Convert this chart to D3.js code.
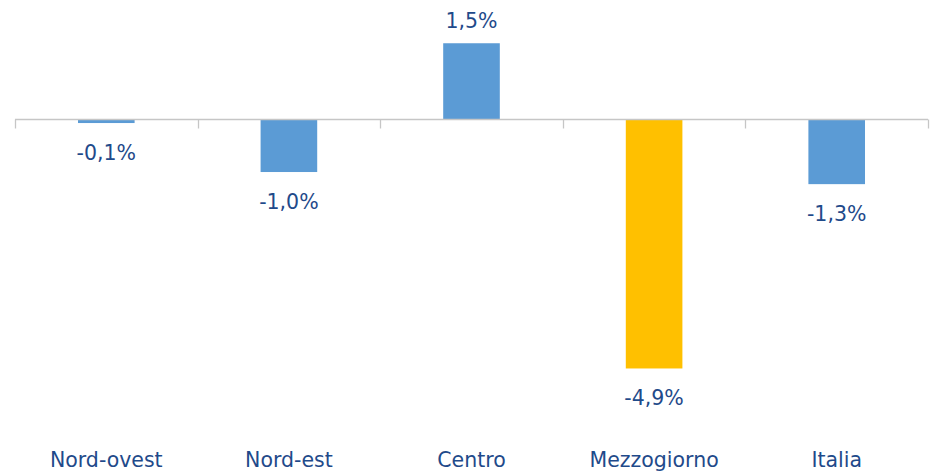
<!DOCTYPE html>
<html>
<head>
<meta charset="utf-8">
<script src="https://cdn.jsdelivr.net/npm/d3@7"></script>
<style>
  body { margin: 0; background: #fff; }
  svg { display: block; font-family: "DejaVu Sans", Verdana, sans-serif; }
</style>
</head>
<body>
<div id="chart"></div>
<script>
// dati
const categorie = ["Nord-ovest", "Nord-est", "Centro", "Mezzogiorno", "Italia"];
const valori = [-0.08, -1.05, 1.5, -4.94, -1.29];
const etichette = ["-0,1%", "-1,0%", "1,5%", "-4,9%", "-1,3%"];
const colori = ["#5B9BD5", "#5B9BD5", "#5B9BD5", "#FFC000", "#5B9BD5"];

const width = 932, height = 473;
const left = 15, right = 928;
const textColor = "#1F4A8A";

const svg = d3.select("#chart").append("svg")
  .attr("width", width)
  .attr("height", height);

const x = d3.scaleBand()
  .domain(categorie)
  .range([left, right])
  .paddingInner(0.69)
  .paddingOuter(0.345);

const y = d3.scaleLinear()
  .domain([-6, 2])
  .range([422, 18]);

const dati = categorie.map((c, i) => ({ c, v: valori[i], t: etichette[i], col: colori[i] }));

// barre
svg.selectAll("rect.bar")
  .data(dati)
  .enter()
  .append("rect")
  .attr("class", "bar")
  .attr("x", d => x(d.c))
  .attr("width", x.bandwidth())
  .attr("y", d => y(Math.max(0, d.v)))
  .attr("height", d => Math.abs(y(d.v) - y(0)))
  .attr("fill", d => d.col);

// asse orizzontale a zero con tacche tra le categorie
const step = x.step();
const y0 = Math.round(y(0)) + 0.5;
svg.append("line")
  .attr("x1", left).attr("x2", right)
  .attr("y1", y0).attr("y2", y0)
  .attr("stroke", "#C6C6C6").attr("stroke-width", 1.3);

const tacche = d3.range(categorie.length + 1).map(i => left + i * step);
svg.selectAll("line.tick")
  .data(tacche)
  .enter()
  .append("line")
  .attr("class", "tick")
  .attr("x1", d => Math.round(d) + 0.5).attr("x2", d => Math.round(d) + 0.5)
  .attr("y1", y0).attr("y2", y0 + 9)
  .attr("stroke", "#C6C6C6").attr("stroke-width", 1.3);

// etichette dei valori
svg.selectAll("text.val")
  .data(dati)
  .enter()
  .append("text")
  .attr("class", "val")
  .attr("x", d => x(d.c) + x.bandwidth() / 2)
  .attr("y", d => d.v >= 0 ? y(d.v) - 15 : y(d.v) + 36.5)
  .attr("text-anchor", "middle")
  .attr("font-size", "20.5px")
  .attr("fill", textColor)
  .text(d => d.t);

// etichette delle categorie
svg.selectAll("text.cat")
  .data(categorie)
  .enter()
  .append("text")
  .attr("class", "cat")
  .attr("x", d => x(d) + x.bandwidth() / 2)
  .attr("y", 467)
  .attr("text-anchor", "middle")
  .attr("font-size", "20.5px")
  .attr("fill", textColor)
  .text(d => d);
</script>
</body>
</html>
